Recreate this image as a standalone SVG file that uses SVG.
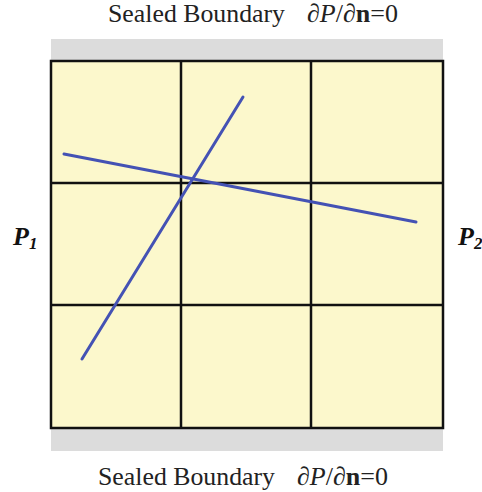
<svg xmlns="http://www.w3.org/2000/svg" width="482" height="492" viewBox="0 0 482 492">
<style>
.t{font-family:"Liberation Serif",serif;font-size:26px;fill:#222}
.p{font-family:"Liberation Serif",serif;font-size:26px;font-weight:bold;font-style:italic;fill:#111}
.g{stroke:#111;stroke-width:2.5;fill:none}
.b{stroke:#4452b4;stroke-width:3;stroke-linecap:round}
</style>
<rect x="0" y="0" width="482" height="492" fill="#fff"/>
<g id="boundary-top">
<rect x="51" y="39" width="392" height="22" fill="#dcdcdc"/>
<text class="t" x="108" y="22" textLength="177" lengthAdjust="spacingAndGlyphs">Sealed Boundary</text>
<text class="t" x="307" y="22" textLength="91" lengthAdjust="spacingAndGlyphs">∂<tspan font-style="italic">P</tspan>/∂<tspan font-weight="bold">n</tspan>=0</text>
</g>
<g id="boundary-bottom">
<rect x="51" y="428" width="392" height="23" fill="#dcdcdc"/>
<text class="t" x="98" y="485" textLength="177" lengthAdjust="spacingAndGlyphs">Sealed Boundary</text>
<text class="t" x="297" y="485" textLength="91" lengthAdjust="spacingAndGlyphs">∂<tspan font-style="italic">P</tspan>/∂<tspan font-weight="bold">n</tspan>=0</text>
</g>
<g id="grid">
<rect x="51" y="61" width="392" height="367" fill="#fcf8cc"/>
<path class="g" d="M51 61H443V428H51Z M181 61V428 M311 61V428 M51 183H443 M51 305H443"/>
</g>
<g id="p1"><text class="p" x="13" y="245">P<tspan font-size="17" dy="4">1</tspan></text></g>
<g id="p2"><text class="p" x="458" y="245">P<tspan font-size="17" dy="4">2</tspan></text></g>
<g id="connectors">
<line class="b" x1="64" y1="154" x2="416" y2="222"/>
<line class="b" x1="82" y1="359" x2="243" y2="97"/>
</g>
</svg>
